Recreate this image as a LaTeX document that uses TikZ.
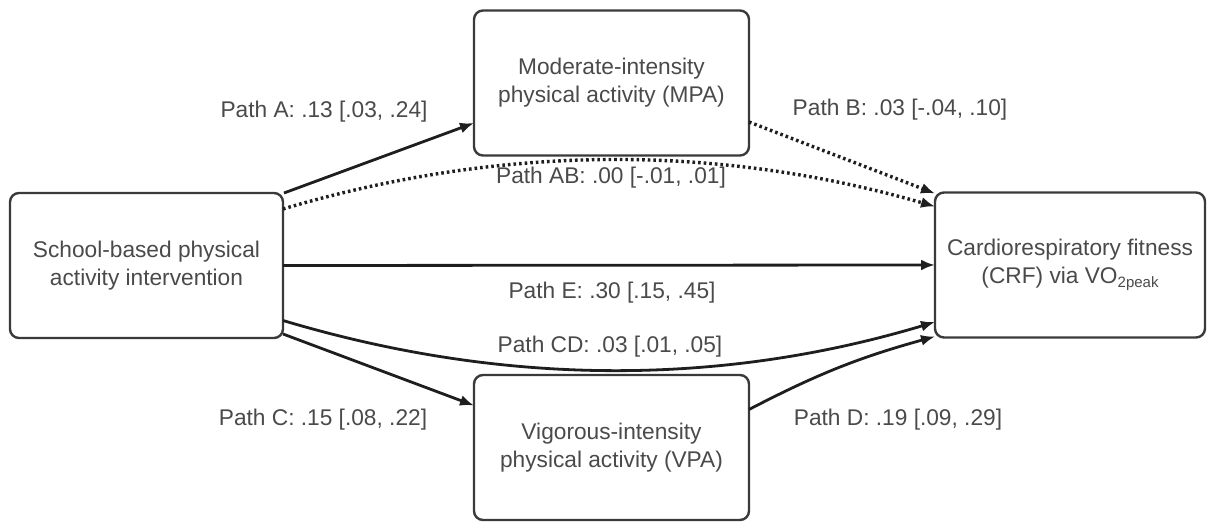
\documentclass[tikz,border=0pt]{standalone}
\usepackage{fontspec}
\setmainfont{Liberation Sans}
\usetikzlibrary{arrows.meta}
\definecolor{txt}{HTML}{4A4A4A}
\definecolor{ln}{HTML}{1E1E1E}
\definecolor{bd}{HTML}{3A3A3A}
\tikzset{
  box/.style={draw=bd, line width=1.2pt, rounded corners=4.5pt, fill=white,
    minimum width=136.5pt, minimum height=72.5pt, inner sep=0pt, outer sep=0pt,
    align=center, text=txt, font=\fontsize{11.35}{14}\selectfont},
  lbl/.style={text=txt, font=\fontsize{11.35}{14}\selectfont, inner sep=0pt},
  conn/.style={draw=ln, line width=1.4pt, -{Latex[length=7pt,width=5.5pt]}},
  dotconn/.style={conn, line width=1.7pt, dash pattern=on 1.3pt off 1.5pt},
}
\begin{document}
\begin{tikzpicture}[x=0.5pt,y=-0.5pt]
\useasboundingbox (0,0) rectangle (1207,523);
\fill[white] (0,0) rectangle (1207,523);
% boxes
\node[box] (L) at (146.5,265.5) {School-based physical\\activity intervention};
\node[box, minimum width=137.5pt] (M) at (611.5,83) {Moderate-intensity\\physical activity (MPA)};
\node[box, minimum width=137.5pt] (V) at (611.5,447.5) {Vigorous-intensity\\physical activity (VPA)};
\node[box, minimum width=135pt] (R) at (1070,265) {Cardiorespiratory fitness\\(CRF) via VO{\fontsize{7.5}{9}\selectfont\raisebox{-2pt}{2peak}}};
% connectors
\draw[conn] ([xshift=0.5pt]L.north east) -- ([yshift=-20pt]M.west);
\draw[dotconn] ([yshift=-8pt]L.north east) .. controls (502,144) and (718,144) .. ([yshift=-7pt]R.north west);
\draw[dotconn] ([yshift=-19.5pt]M.east) -- ([yshift=-0.5pt]R.north west);
\draw[conn] (L.east) -- (R.west);
\draw[conn] ([yshift=-27.5pt]L.east) .. controls (502,386) and (718,387) .. ([yshift=-28.5pt]R.west);
\draw[conn] ([yshift=2pt]L.south east) -- ([yshift=21pt]V.west);
\draw[conn] ([yshift=19pt]V.east) to[bend left=6] ([yshift=0.5pt]R.south west);
% labels
\node[lbl] (lA) at (324,112) {Path A: .13 [.03, .24]};
\node[lbl] (lB) at (900,110) {Path B: .03 [-.04, .10]};
\node[lbl] (lAB) at (611,178) {Path AB: .00 [-.01, .01]};
\node[lbl] (lE) at (612,293) {Path E: .30 [.15, .45]};
\node[lbl] (lCD) at (610,347) {Path CD: .03 [.01, .05]};
\node[lbl] (lC) at (323,420) {Path C: .15 [.08, .22]};
\node[lbl] (lD) at (898,420) {Path D: .19 [.09, .29]};
\end{tikzpicture}
\end{document}
